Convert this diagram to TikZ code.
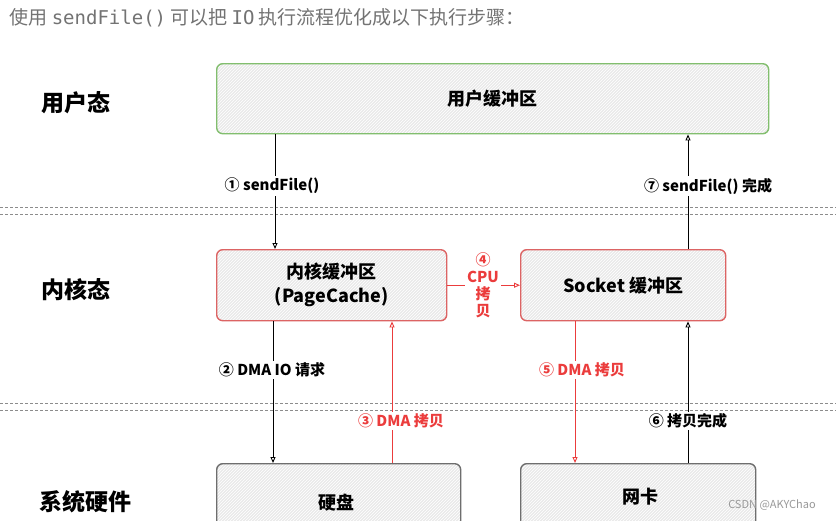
\documentclass[tikz,border=0pt]{standalone}
\usepackage{fontspec}
\setmainfont{Noto Sans CJK SC}
\setmonofont{DejaVu Sans Mono}
\usepackage{tikz}
\usetikzlibrary{arrows.meta,patterns}
\usepackage{xcolor}
\definecolor{usergreen}{RGB}{130,190,110}
\definecolor{kernred}{RGB}{220,100,100}
\definecolor{hwgray}{RGB}{110,110,110}
\definecolor{copyred}{RGB}{235,60,60}
\definecolor{boxfill}{RGB}{234,234,234}

\begin{document}
\begin{tikzpicture}[x=1pt,y=-1pt,
  every node/.style={font=\bfseries\fontsize{15}{17}\selectfont},
  bufbox/.style={preaction={fill=boxfill}, pattern=north east lines,
    pattern color=white, rounded corners=6pt, line width=1.4pt,
    align=center, anchor=north west, inner sep=0pt},
  userbuf/.style={bufbox, draw=usergreen, minimum width=552pt, minimum height=70pt},
  kernbuf/.style={bufbox, draw=kernred, minimum width=230pt, minimum height=71pt},
  hwbox/.style={bufbox, draw=hwgray, minimum height=90pt},
  layer/.style={font=\bfseries\fontsize{23}{25}\selectfont},
  boxtext/.style={font=\bfseries\fontsize{18}{24}\selectfont, align=center},
  lbl/.style={fill=white, inner sep=2pt},
  redlbl/.style={lbl, text=copyred},
  sep/.style={draw=gray!90, line width=1pt, dash pattern=on 3pt off 2pt},
  arr/.style={-{Triangle[open,length=6pt,width=5pt]}, line width=0.9pt},
  redarr/.style={arr, draw=copyred},
]
\clip (0,0) rectangle (836,520);
\fill[white] (0,0) rectangle (836,520);

\node[anchor=west, text=gray!90!black, font=\fontsize{19}{21}\selectfont] at (6,18) (title)
  {使用 \texttt{sendFile()} 可以把 \texttt{IO} 执行流程优化成以下执行步骤：};

% layer names
\node[layer] at (76,103) (lyuser) {用户态};
\node[layer] at (76,290) (lykern) {内核态};
\node[layer] at (85,502) (lyhw)   {系统硬件};

% separators
\draw[sep] (0,207) -- (836,207);
\draw[sep] (0,214) -- (836,214);
\draw[sep] (0,403) -- (836,403);
\draw[sep] (0,410) -- (836,410);

% buffers
\node[userbuf] at (216,63) (userbuf) {};
\node[boxtext] at (userbuf.center) {用户缓冲区};
\node[kernbuf] at (216,249) (kernbuf) {};
\node[boxtext] at (kernbuf.center) {内核缓冲区\\(PageCache)};
\node[kernbuf, minimum width=205pt] at (520,249) (sockbuf) {};
\node[boxtext] at (sockbuf.center) {Socket 缓冲区};
\node[hwbox, minimum width=244pt] at (216,463) (disk) {};
\node[boxtext] at (336,503) {硬盘};
\node[hwbox, minimum width=235pt] at (520,463) (nic) {};
\node[boxtext] at (640,497) {网卡};

% connectors
\draw[arr] ([xshift=59pt]userbuf.south west) -- ([xshift=59pt]kernbuf.north west);
\draw[arr] ([xshift=57pt]kernbuf.south west) -- ([xshift=57pt]disk.north west);
\draw[redarr] ([xshift=176pt]disk.north west) -- ([xshift=176pt]kernbuf.south west);
\draw[redarr] (kernbuf.east) -- (sockbuf.west);
\draw[redarr] ([xshift=55pt]sockbuf.south west) -- ([xshift=55pt]nic.north west);
\draw[arr] ([xshift=168pt]nic.north west) -- ([xshift=168pt]sockbuf.south west);
\draw[arr] ([xshift=168pt]sockbuf.north west) -- ([xshift=472pt]userbuf.south west);

% step labels
\node[lbl]    at (272,186) (s1) {① sendFile()};
\node[lbl]    at (272,370) (s2) {② DMA IO 请求};
\node[redlbl] at (401,421) (s3) {③ DMA 拷贝};
\node[redlbl, align=center, font=\bfseries\fontsize{15}{17}\selectfont] at (483,285) (s4) {④\\CPU\\拷\\贝};
\node[redlbl] at (582,370) (s5) {⑤ DMA 拷贝};
\node[lbl]    at (688,421) (s6) {⑥ 拷贝完成};
\node[lbl]    at (708,186) (s7) {⑦ sendFile() 完成};

\node[text=gray!80, font=\fontsize{11}{12}\selectfont] at (772,505) (mark) {CSDN @AKYChao};
\end{tikzpicture}
\end{document}
